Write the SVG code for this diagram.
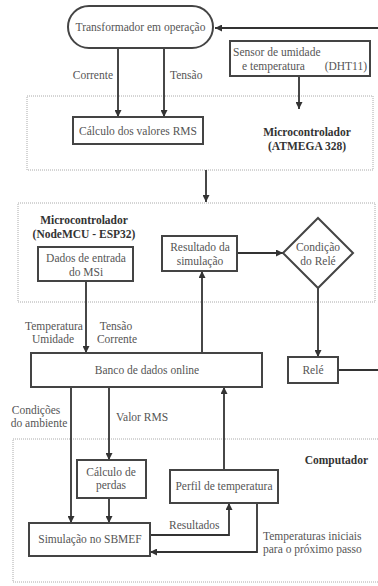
<svg xmlns="http://www.w3.org/2000/svg" width="378" height="586" viewBox="0 0 378 586">
  <style>
    text { font-family: "Liberation Serif", "Times New Roman", serif; font-size: 11.5px; fill: #555; }
    .b { font-weight: bold; fill: #333; }
    .m { text-anchor: middle; }
    .e { text-anchor: end; }
    .box { fill: #fff; stroke: #444; stroke-width: 2; }
    .zone { fill: none; stroke: #aaa; stroke-width: 1; stroke-dasharray: 1 1; }
    .wire { fill: none; stroke: #333; stroke-width: 1.8; }
  </style>
  <defs>
    <marker id="arrow" viewBox="0 0 8 8" refX="8" refY="4" markerWidth="7" markerHeight="7" markerUnits="userSpaceOnUse" orient="auto">
      <path d="M0,0 L8,4 L0,8 z" fill="#333"/>
    </marker>
  </defs>
  <rect width="378" height="586" fill="#fff"/>

  <!-- dotted zones -->
  <g id="zone-atmega">
    <rect class="zone" x="27" y="96" width="346" height="74"/>
    <text class="b m" x="307" y="136">Microcontrolador</text>
    <text class="b m" x="307" y="150">(ATMEGA 328)</text>
  </g>
  <g id="zone-esp32">
    <rect class="zone" x="18" y="203" width="357" height="99"/>
    <text class="b m" x="84" y="224">Microcontrolador</text>
    <text class="b m" x="84" y="238">(NodeMCU - ESP32)</text>
  </g>
  <g id="zone-computador">
    <rect class="zone" x="13" y="439" width="380" height="143"/>
    <text class="b e" x="368" y="464">Computador</text>
  </g>

  <!-- connectors -->
  <g id="connectors">
    <path class="wire" d="M338,370 H384 V28 H215" marker-end="url(#arrow)"/>
    <path class="wire" d="M118,48 V117" marker-end="url(#arrow)"/>
    <path class="wire" d="M164,48 V117" marker-end="url(#arrow)"/>
    <path class="wire" d="M299,76 V109" marker-end="url(#arrow)"/>
    <path class="wire" d="M206,170 V202" marker-end="url(#arrow)"/>
    <path class="wire" d="M86,281 V353" marker-end="url(#arrow)"/>
    <path class="wire" d="M202,353 V271" marker-end="url(#arrow)"/>
    <path class="wire" d="M237,253 H283" marker-end="url(#arrow)"/>
    <path class="wire" d="M318,288 V357" marker-end="url(#arrow)"/>
    <path class="wire" d="M71,387 V523" marker-end="url(#arrow)"/>
    <path class="wire" d="M109,387 V460" marker-end="url(#arrow)"/>
    <path class="wire" d="M224,470 V387" marker-end="url(#arrow)"/>
    <path class="wire" d="M109,498 V523" marker-end="url(#arrow)"/>
    <path class="wire" d="M150,535 H229 V503" marker-end="url(#arrow)"/>
    <path class="wire" d="M257,503 V552 H150" marker-end="url(#arrow)"/>

    <text class="e" x="113" y="79">Corrente</text>
    <text x="170" y="79">Tensão</text>
    <text class="m" x="54" y="330">Temperatura</text>
    <text class="m" x="53" y="343">Umidade</text>
    <text class="m" x="116" y="330">Tensão</text>
    <text class="m" x="117" y="343">Corrente</text>
    <text class="m" x="36" y="414">Condições</text>
    <text class="m" x="39" y="427">do ambiente</text>
    <text x="116" y="421">Valor RMS</text>
    <text x="169" y="529">Resultados</text>
    <text x="263" y="540">Temperaturas iniciais</text>
    <text x="263" y="553">para o próximo passo</text>
  </g>

  <!-- nodes -->
  <g id="transformador">
    <rect class="box" x="68" y="6" width="145" height="42" rx="21"/>
    <text class="m" x="140.5" y="31">Transformador em operação</text>
  </g>
  <g id="sensor">
    <rect class="box" x="230" y="41" width="140" height="35"/>
    <text x="233" y="56">Sensor de umidade</text>
    <text x="242" y="70">e temperatura</text>
    <text class="e" x="367" y="70">(DHT11)</text>
  </g>
  <g id="calculo-rms">
    <rect class="box" x="73" y="117" width="130" height="27"/>
    <text class="m" x="138" y="135">Cálculo dos valores RMS</text>
  </g>
  <g id="dados-entrada">
    <rect class="box" x="38" y="247" width="95" height="34"/>
    <text class="m" x="86" y="262">Dados de entrada</text>
    <text class="m" x="86" y="276">do MSi</text>
  </g>
  <g id="resultado">
    <rect class="box" x="162" y="236" width="75" height="35"/>
    <text class="m" x="200" y="251">Resultado da</text>
    <text class="m" x="200" y="265">simulação</text>
  </g>
  <g id="condicao-rele">
    <polygon class="box" points="318,218 353,253 318,288 283,253"/>
    <text class="m" x="318" y="251">Condição</text>
    <text class="m" x="318" y="265">do Relé</text>
  </g>
  <g id="rele">
    <rect class="box" x="288" y="357" width="50" height="26"/>
    <text class="m" x="313" y="374">Relé</text>
  </g>
  <g id="banco">
    <rect class="box" x="31" y="353" width="231" height="34"/>
    <text class="m" x="147" y="374">Banco de dados online</text>
  </g>
  <g id="calculo-perdas">
    <rect class="box" x="77" y="460" width="69" height="38"/>
    <text class="m" x="111" y="476">Cálculo de</text>
    <text class="m" x="111" y="489">perdas</text>
  </g>
  <g id="perfil">
    <rect class="box" x="170" y="470" width="108" height="33"/>
    <text class="m" x="224" y="490">Perfil de temperatura</text>
  </g>
  <g id="simulacao">
    <rect class="box" x="29" y="523" width="121" height="33"/>
    <text class="m" x="90" y="543">Simulação no SBMEF</text>
  </g>
</svg>
